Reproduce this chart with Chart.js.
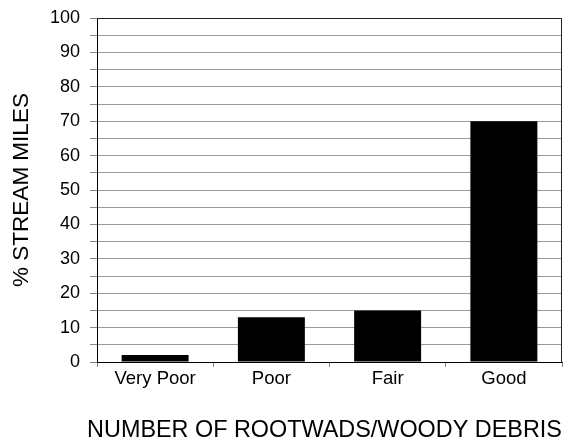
<!DOCTYPE html>
<html>
<head>
<meta charset="utf-8">
<script src="https://cdn.jsdelivr.net/npm/chart.js@4/dist/chart.umd.min.js"></script>
<style>
  body { margin: 0; background: #fff; }
  canvas { display: block; }
</style>
</head>
<body>
<canvas id="chart" width="566" height="440"></canvas>
<script>
var categories = ['Very Poor', 'Poor', 'Fair', 'Good'];
var streamMiles = [2, 13, 15, 70];
var yTitle = '% STREAM MILES';
var xTitle = 'NUMBER OF ROOTWADS/WOODY DEBRIS';

var font = '"Liberation Sans", Arial, sans-serif';

// box round the plot area (top line and right edge), plus the x title,
// which is wider than the axis and would be squeezed by the scale title
var frame = {
    id: 'frame',
    afterDraw: function (chart) {
        var a = chart.chartArea, ctx = chart.ctx;
        ctx.save();
        ctx.strokeStyle = '#222';
        ctx.lineWidth = 1;
        ctx.beginPath();
        ctx.moveTo(a.left, a.top + 0.5);
        ctx.lineTo(a.right - 0.5, a.top + 0.5);
        ctx.lineTo(a.right - 0.5, a.bottom);
        ctx.stroke();

        ctx.fillStyle = '#000';
        ctx.font = '23.4px ' + font;
        ctx.textAlign = 'center';
        ctx.textBaseline = 'alphabetic';
        ctx.fillText(xTitle, (a.left + a.right) / 2 - 5, chart.height - 3);
        ctx.restore();
    }
};

function drawChart(id) {
    var element = document.getElementById(id).getContext('2d');
    return new Chart(element, {
        type: 'bar',
        data: {
            labels: categories,
            datasets: [
                {
                    label: yTitle,
                    data: streamMiles,
                    backgroundColor: '#000',
                    borderWidth: 0,
                    barPercentage: 0.576,
                    categoryPercentage: 1
                }
            ]
        },
        options: {
            responsive: false,
            animation: false,
            layout: { padding: { top: 18, right: 4, bottom: 0, left: 0 } },
            plugins: {
                legend: { display: false },
                tooltip: { enabled: false }
            },
            scales: {
                x: {
                    offset: true,
                    grid: {
                        offset: true,
                        drawOnChartArea: false,
                        color: '#888',
                        tickLength: 5
                    },
                    border: { color: '#000', width: 1 },
                    ticks: {
                        color: '#000',
                        padding: 1,
                        font: { family: font, size: 18.5 }
                    },
                    afterFit: function (scale) {
                        scale.height = 78;
                        scale.paddingLeft = 0;
                        scale.paddingRight = 0;
                    }
                },
                y: {
                    min: 0,
                    max: 100,
                    grid: {
                        color: '#999',
                        tickColor: '#888',
                        tickLength: 7
                    },
                    border: { color: '#000', width: 1 },
                    ticks: {
                        stepSize: 5,
                        autoSkip: false,
                        color: '#000',
                        padding: 10,
                        font: { family: font, size: 18 },
                        callback: function (v) { return v % 10 === 0 ? String(v) : ''; }
                    },
                    title: {
                        display: true,
                        text: yTitle,
                        color: '#000',
                        padding: { top: 8, bottom: 0 },
                        font: { family: font, size: 22.5 }
                    },
                    afterFit: function (scale) {
                        scale.width = 97;
                        scale.paddingTop = 0;
                        scale.paddingBottom = 0;
                    }
                }
            }
        },
        plugins: [frame]
    });
}

drawChart('chart');
</script>
</body>
</html>
